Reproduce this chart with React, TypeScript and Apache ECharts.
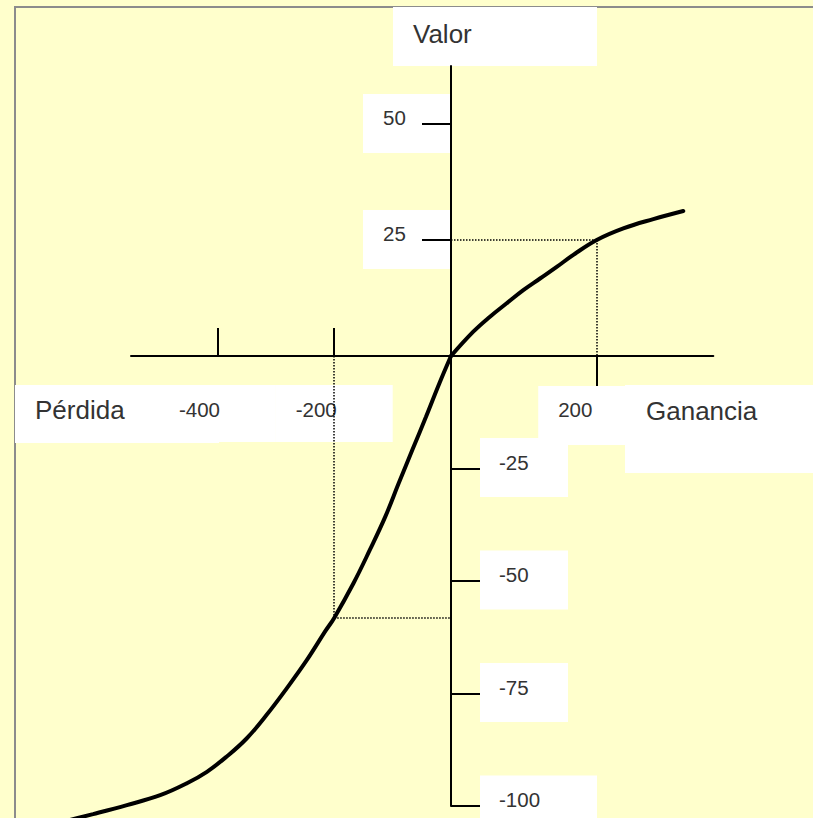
import { useEffect, useRef } from "react";
import * as echarts from "echarts";

// ---- data ----
// loss side (quadrant III): x = pérdida, y = valor
const lossX = [-704, -613, -555, -498, -453, -418, -384, -350, -316, -281, -247, -215, -200, -167, -139, -112.5, -89.6, -66.3, -42.8, -20, 0];
const lossY = [-104.8, -101.8, -99.8, -97.6, -95.0, -92.4, -89.0, -85.0, -79.8, -73.8, -67.6, -61.1, -58.2, -50.5, -43.1, -35.7, -28.3, -20.9, -13.5, -6.1, 0];
// gain side (quadrant I)
const gainX = [0, 30.6, 53.5, 76.4, 99.2, 122.2, 145.1, 167.9, 200, 236.5, 277.7, 318.8];
const gainY = [0, 5.24, 8.47, 11.36, 14.2, 16.7, 19.2, 21.8, 25, 27.5, 29.5, 31.25];

// tick values
const lossTicksX = [-400, -200];
const gainTicksX = [200];
const gainTicksY = [25, 50];
const lossTicksY = [-25, -50, -75, -100];

// reference (dotted) points
const gainRef = [200, 25];
const lossRef = [-200, -58.2];

// axis names
const valueName = "Valor";
const lossName = "Pérdida";
const gainName = "Ganancia";

const FONT = "'Liberation Sans', Arial, Helvetica, sans-serif";
const BG = "#FFFFCC";
const TXT = "#333";
const AX = { color: "#000", width: 2 };

// layout of the loss quadrant (px) and its visible axis extent
const L_LEFT = 131, L_RIGHT = 451, L_TOP = 356, L_HEIGHT = 450;
const L_XMIN = -548, L_YMIN = -100;
const PAGE_H = 818;

export default function App() {
  const ref = useRef<HTMLDivElement>(null);

  useEffect(() => {
    if (!ref.current) return;
    const chart = echarts.init(ref.current, undefined, { renderer: "svg" });

    // the loss curve lives in a wider grid with exactly the same scale
    const kx = (L_RIGHT - L_LEFT) / -L_XMIN;
    const ky = L_HEIGHT / -L_YMIN;
    const curveXMin = -L_RIGHT / kx;
    const curveYMin = -(PAGE_H - L_TOP) / ky;

    const axisBase = {
      type: "value" as const,
      z: 4,
      axisLine: { show: true, onZero: false, lineStyle: AX },
      axisLabel: { show: false },
      splitLine: { show: false },
    };
    const hiddenAxis = { type: "value" as const, show: false, splitLine: { show: false } };

    const dotted = {
      silent: true,
      symbol: "none",
      label: { show: false },
      lineStyle: { color: "#000", width: 1.5, type: [1.5, 1.5] as any },
    };

    chart.setOption({
      animation: false,
      backgroundColor: BG,
      grid: [
        { left: L_LEFT, top: L_TOP, width: L_RIGHT - L_LEFT, height: L_HEIGHT, outerBoundsMode: "none" },
        { left: 451, top: 66, width: 262.3, height: 290, outerBoundsMode: "none" },
        { left: 0, top: L_TOP, width: L_RIGHT, height: PAGE_H - L_TOP, outerBoundsMode: "none" },
      ],
      xAxis: [
        {
          ...axisBase,
          gridIndex: 0,
          min: L_XMIN,
          max: 0,
          position: "top",
          axisTick: { show: true, customValues: lossTicksX, length: 28, lineStyle: AX },
        },
        {
          ...axisBase,
          gridIndex: 1,
          min: 0,
          max: 360,
          position: "bottom",
          axisTick: { show: true, customValues: gainTicksX, length: 30, lineStyle: AX },
        },
        { ...hiddenAxis, gridIndex: 2, min: curveXMin, max: 0 },
      ],
      yAxis: [
        {
          ...axisBase,
          gridIndex: 0,
          min: L_YMIN,
          max: 0,
          position: "right",
          axisTick: { show: true, customValues: lossTicksY, length: 29, lineStyle: AX },
        },
        {
          ...axisBase,
          gridIndex: 1,
          min: 0,
          max: 62.5,
          position: "left",
          axisTick: { show: true, customValues: gainTicksY, length: 29, lineStyle: AX },
        },
        { ...hiddenAxis, gridIndex: 2, min: curveYMin, max: 0 },
      ],
      series: [
        {
          type: "line",
          xAxisIndex: 2,
          yAxisIndex: 2,
          data: lossX.map((x, i) => [x, lossY[i]]),
          smooth: 0.4,
          symbol: "none",
          lineStyle: { color: "#000", width: 4, cap: "round" },
          markLine: {
            ...dotted,
            data: [
              [{ coord: [lossRef[0], 0] }, { coord: lossRef }],
              [{ coord: lossRef }, { coord: [0, lossRef[1]] }],
            ],
          },
        },
        {
          type: "line",
          xAxisIndex: 1,
          yAxisIndex: 1,
          data: gainX.map((x, i) => [x, gainY[i]]),
          smooth: 0.4,
          symbol: "none",
          lineStyle: { color: "#000", width: 4, cap: "round" },
          markLine: {
            ...dotted,
            data: [
              [{ coord: [0, gainRef[1]] }, { coord: gainRef }],
              [{ coord: gainRef }, { coord: [gainRef[0], 0] }],
            ],
          },
        },
      ],
    });

    const px = (gi: number, v: number[]) =>
      chart.convertToPixel({ xAxisIndex: gi, yAxisIndex: gi }, v) as number[];

    const rects: any[] = [];
    const texts: any[] = [];
    const box = (x: number, y: number, w: number, h: number) =>
      rects.push({ type: "rect", z: 3, shape: { x, y, width: w, height: h }, style: { fill: "#fff" } });
    const txt = (s: string, x: number, y: number, size: number) =>
      texts.push({
        type: "text",
        z: 3,
        style: { text: s, x, y, fill: TXT, fontSize: size, fontFamily: FONT, align: "left", verticalAlign: "middle" },
      });

    lossTicksX.forEach((v) => {
      const [tx, ty] = px(0, [v, 0]);
      box(tx - 58.5, ty + 29, 117, 57);
      txt(String(v), tx - 38.5, ty + 53, 20.5);
    });
    gainTicksX.forEach((v) => {
      const [tx, ty] = px(1, [v, 0]);
      box(tx - 58.5, ty + 30, 117, 59);
      txt(String(v), tx - 38.5, ty + 53.5, 20.5);
    });
    gainTicksY.forEach((v) => {
      const [tx, ty] = px(1, [0, v]);
      box(tx - 88, ty - 30, 88, 59);
      txt(String(v), tx - 68, ty - 7, 20.5);
    });
    lossTicksY.forEach((v) => {
      const [tx, ty] = px(0, [0, v]);
      box(tx + 29, ty - 30.5, String(v).length > 3 ? 117 : 88, 59);
      txt(String(v), tx + 48, ty - 6.5, 20.5);
    });

    // axis-name boxes
    const [vx, vy] = px(1, [0, 62.5]);
    box(vx - 58, 7, 204, vy - 7);
    txt(valueName, vx - 38, 34, 26);
    box(15, 385, 204, 58);
    txt(lossName, 35, 410, 26);
    box(625, 385, 188, 88);
    txt(gainName, 646, 410.5, 26);

    const border = { stroke: "#8c8c8c", lineWidth: 2 };

    chart.setOption({
      graphic: [
        { type: "line", z: 1, shape: { x1: 14, y1: 7, x2: 813, y2: 7 }, style: border },
        { type: "line", z: 1, shape: { x1: 15, y1: 6, x2: 15, y2: 818 }, style: border },
        ...rects,
        ...texts,
      ],
    });

    return () => chart.dispose();
  }, []);

  return (
    <div
      ref={ref}
      style={{ position: "fixed", left: 0, top: 0, width: 813, height: 818, background: BG }}
    />
  );
}
